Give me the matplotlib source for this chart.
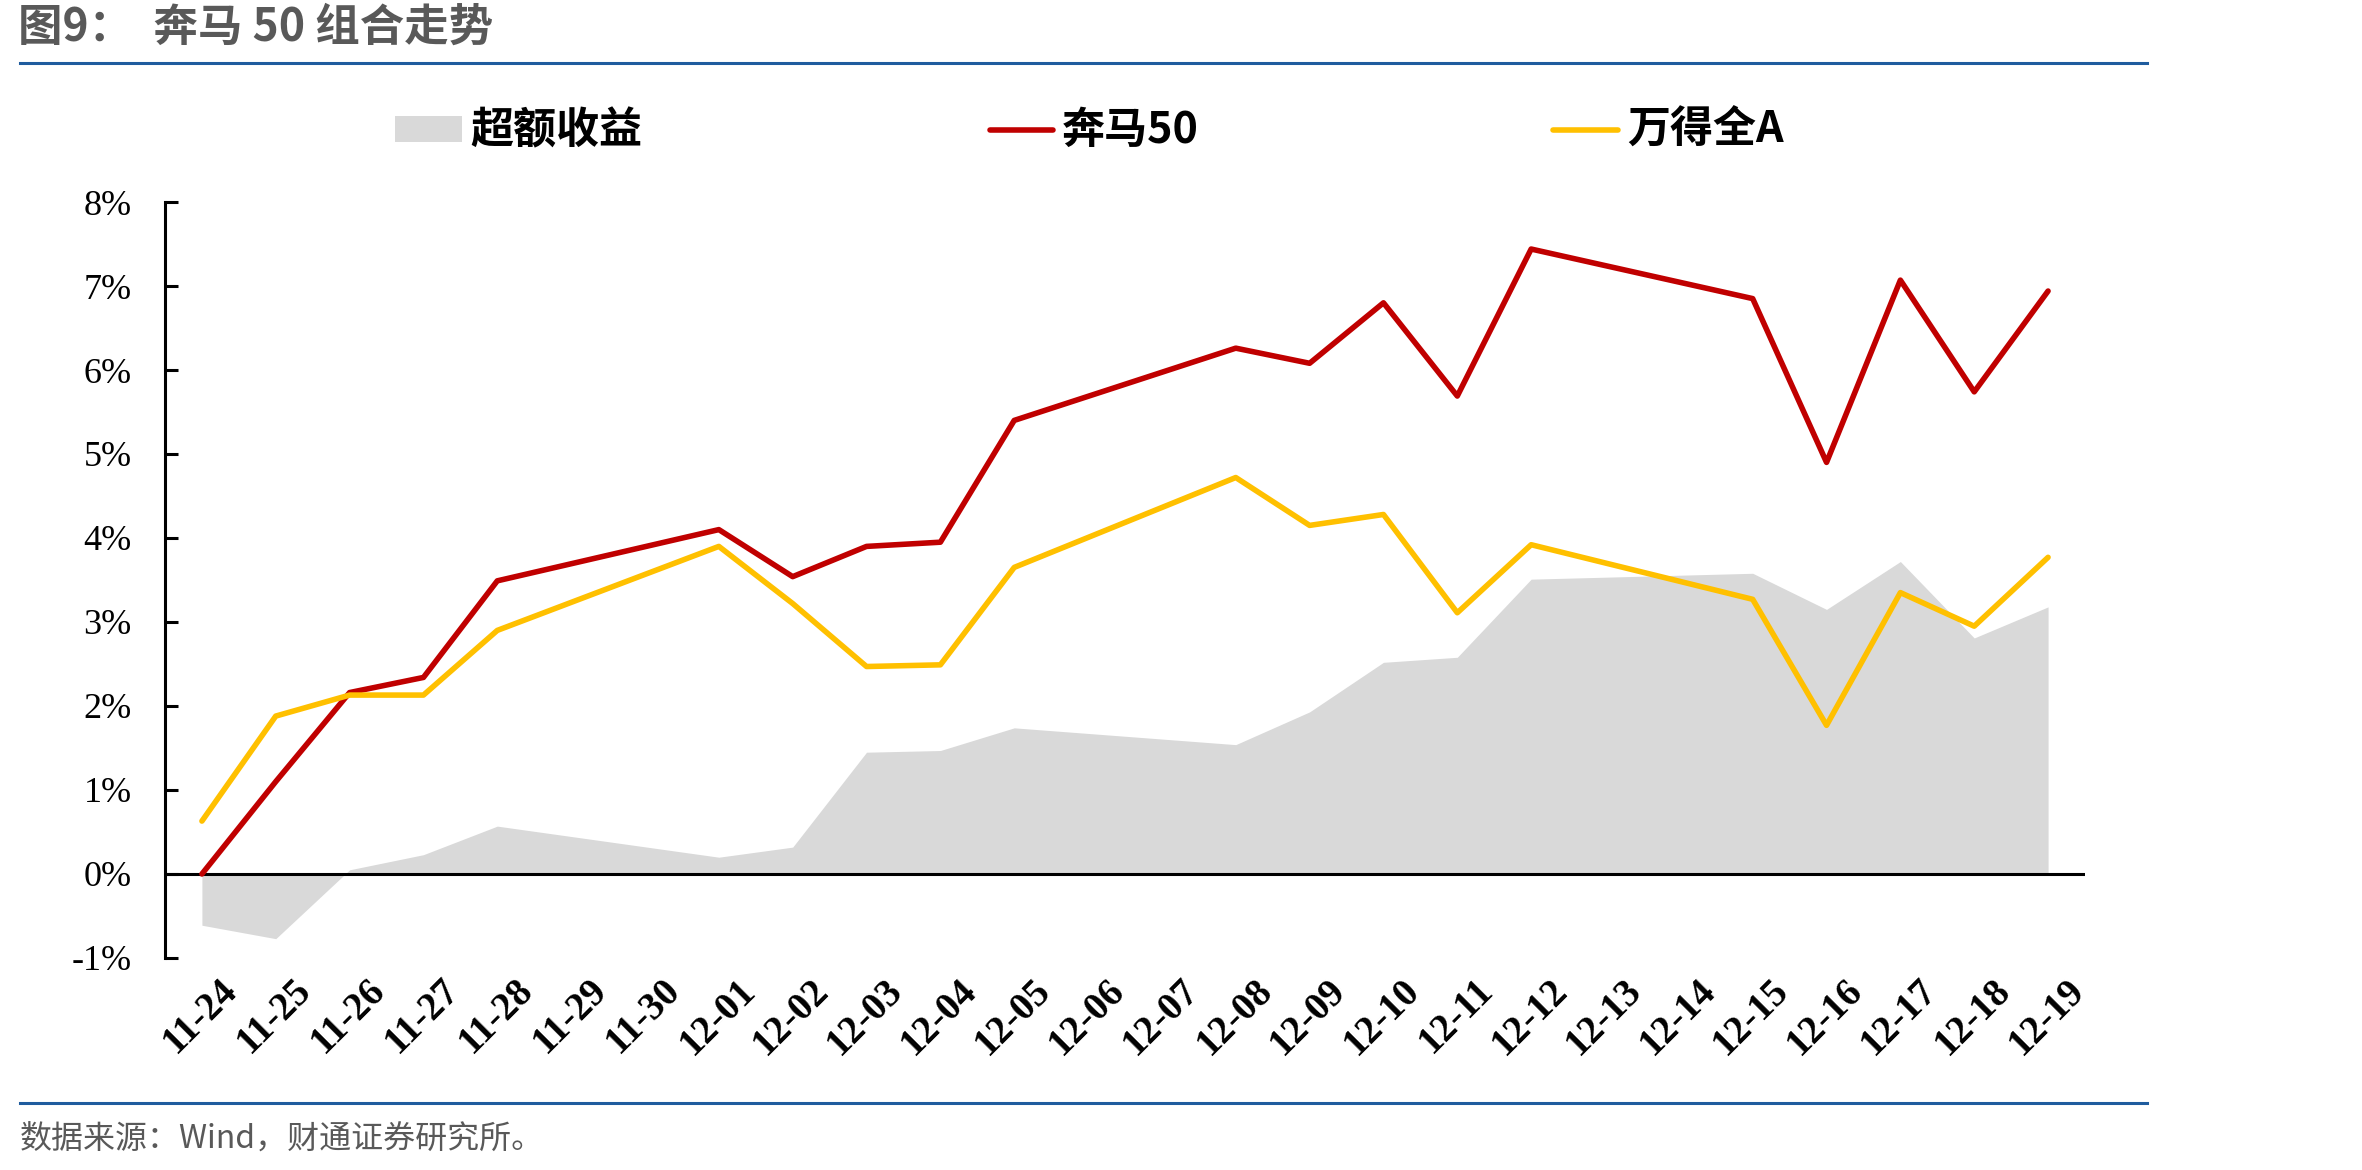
import matplotlib
matplotlib.use('Agg')
import matplotlib.pyplot as plt
import matplotlib.transforms as mtransforms
from matplotlib.patches import Rectangle
from matplotlib.lines import Line2D

# all calendar days on the axis
dates = ["11-24", "11-25", "11-26", "11-27", "11-28", "11-29", "11-30",
         "12-01", "12-02", "12-03", "12-04", "12-05", "12-06", "12-07",
         "12-08", "12-09", "12-10", "12-11", "12-12", "12-13", "12-14",
         "12-15", "12-16", "12-17", "12-18", "12-19"]
# trading days that carry values
trade_days = ["11-24", "11-25", "11-26", "11-27", "11-28", "12-01", "12-02",
              "12-03", "12-04", "12-05", "12-08", "12-09", "12-10", "12-11",
              "12-12", "12-15", "12-16", "12-17", "12-18", "12-19"]
benma50 = [0.00, 1.10, 2.16, 2.34, 3.49, 4.10, 3.54, 3.90, 3.95, 5.40,
           6.26, 6.08, 6.80, 5.69, 7.44, 6.85, 4.90, 7.07, 5.74, 6.94]
wind_a = [0.63, 1.88, 2.13, 2.13, 2.90, 3.90, 3.22, 2.47, 2.49, 3.65,
          4.72, 4.15, 4.28, 3.11, 3.92, 3.27, 1.77, 3.35, 2.95, 3.77]
excess = [-0.61, -0.77, 0.05, 0.23, 0.57, 0.20, 0.32, 1.45, 1.47, 1.74,
          1.54, 1.93, 2.52, 2.58, 3.51, 3.58, 3.15, 3.72, 2.81, 3.18]
yticks = [-1, 0, 1, 2, 3, 4, 5, 6, 7, 8]
ytick_labels = ["-1%", "0%", "1%", "2%", "3%", "4%", "5%", "6%", "7%", "8%"]

W, H = 2362, 1170
fig = plt.figure(figsize=(W / 100, H / 100), dpi=100)

def fx(px):
    return px / W

def fy(py):
    return 1 - py / H

ax = fig.add_axes([fx(165), fy(958), fx(2085) - fx(165), fy(202) - fy(958)])

x_trade = [dates.index(d) for d in trade_days]

ax.fill_between(x_trade, excess, 0, color='#D9D9D9', linewidth=0, zorder=1)
ax.axhline(0, color='black', linewidth=2.2, zorder=2)
ax.plot(x_trade, benma50, color='#C00000', linewidth=4, solid_capstyle='round', zorder=3)
ax.plot(x_trade, wind_a, color='#FFC000', linewidth=4, solid_capstyle='round', zorder=3)

ax.set_xlim(-0.5, len(dates) - 0.5)
ax.set_ylim(-1, 8)

for s in ['top', 'right', 'bottom']:
    ax.spines[s].set_visible(False)
ax.spines['left'].set_linewidth(2.2)

ax.set_yticks(yticks)
ax.set_yticklabels(ytick_labels, fontfamily='Liberation Serif', fontsize=26)
ax.tick_params(axis='y', direction='in', length=9, width=2.2, pad=24)

ax.set_xticks(range(len(dates)))
ax.set_xticklabels(dates, fontfamily='Liberation Serif', fontsize=28,
                   fontweight='bold', rotation=45, ha='center', va='top')
ax.tick_params(axis='x', length=0, pad=10)
offset = mtransforms.ScaledTranslation(-1 / 100, 0, fig.dpi_scale_trans)
for lab in ax.get_xticklabels():
    lab.set_transform(lab.get_transform() + offset)

# title and rules
fig.text(fx(18), fy(28), "图9：  奔马 50 组合走势", fontfamily='Noto Sans CJK SC',
         fontsize=32, fontweight='bold', color='#595959', va='center', ha='left')
fig.add_artist(Line2D([fx(20), fx(2147)], [fy(63), fy(63)], color='#1F5C9E', linewidth=2.2))
fig.add_artist(Line2D([fx(20), fx(2147)], [fy(1103), fy(1103)], color='#1F5C9E', linewidth=2.2))
fig.text(fx(20), fy(1140), "数据来源：Wind，财通证券研究所。", fontfamily='Noto Sans CJK SC',
         fontsize=23, color='#595959', va='center', ha='left')

# legend
fig.add_artist(Rectangle((fx(395), fy(142)), fx(462) - fx(395), fy(116) - fy(142),
                         facecolor='#D9D9D9', edgecolor='none'))
fig.text(fx(470), fy(130), "超额收益", fontfamily='Noto Sans CJK SC', fontsize=31,
         fontweight='bold', va='center', ha='left')
fig.add_artist(Line2D([fx(990), fx(1053)], [fy(130), fy(130)], color='#C00000',
                      linewidth=4, solid_capstyle='round'))
fig.text(fx(1062), fy(130), "奔马50", fontfamily='Noto Sans CJK SC', fontsize=31,
         fontweight='bold', va='center', ha='left')
fig.add_artist(Line2D([fx(1553), fx(1618)], [fy(130), fy(130)], color='#FFC000',
                      linewidth=4, solid_capstyle='round'))
fig.text(fx(1627), fy(130), "万得全A", fontfamily='Noto Sans CJK SC', fontsize=31,
         fontweight='bold', va='center', ha='left')

fig.savefig("out.png", dpi=100)
